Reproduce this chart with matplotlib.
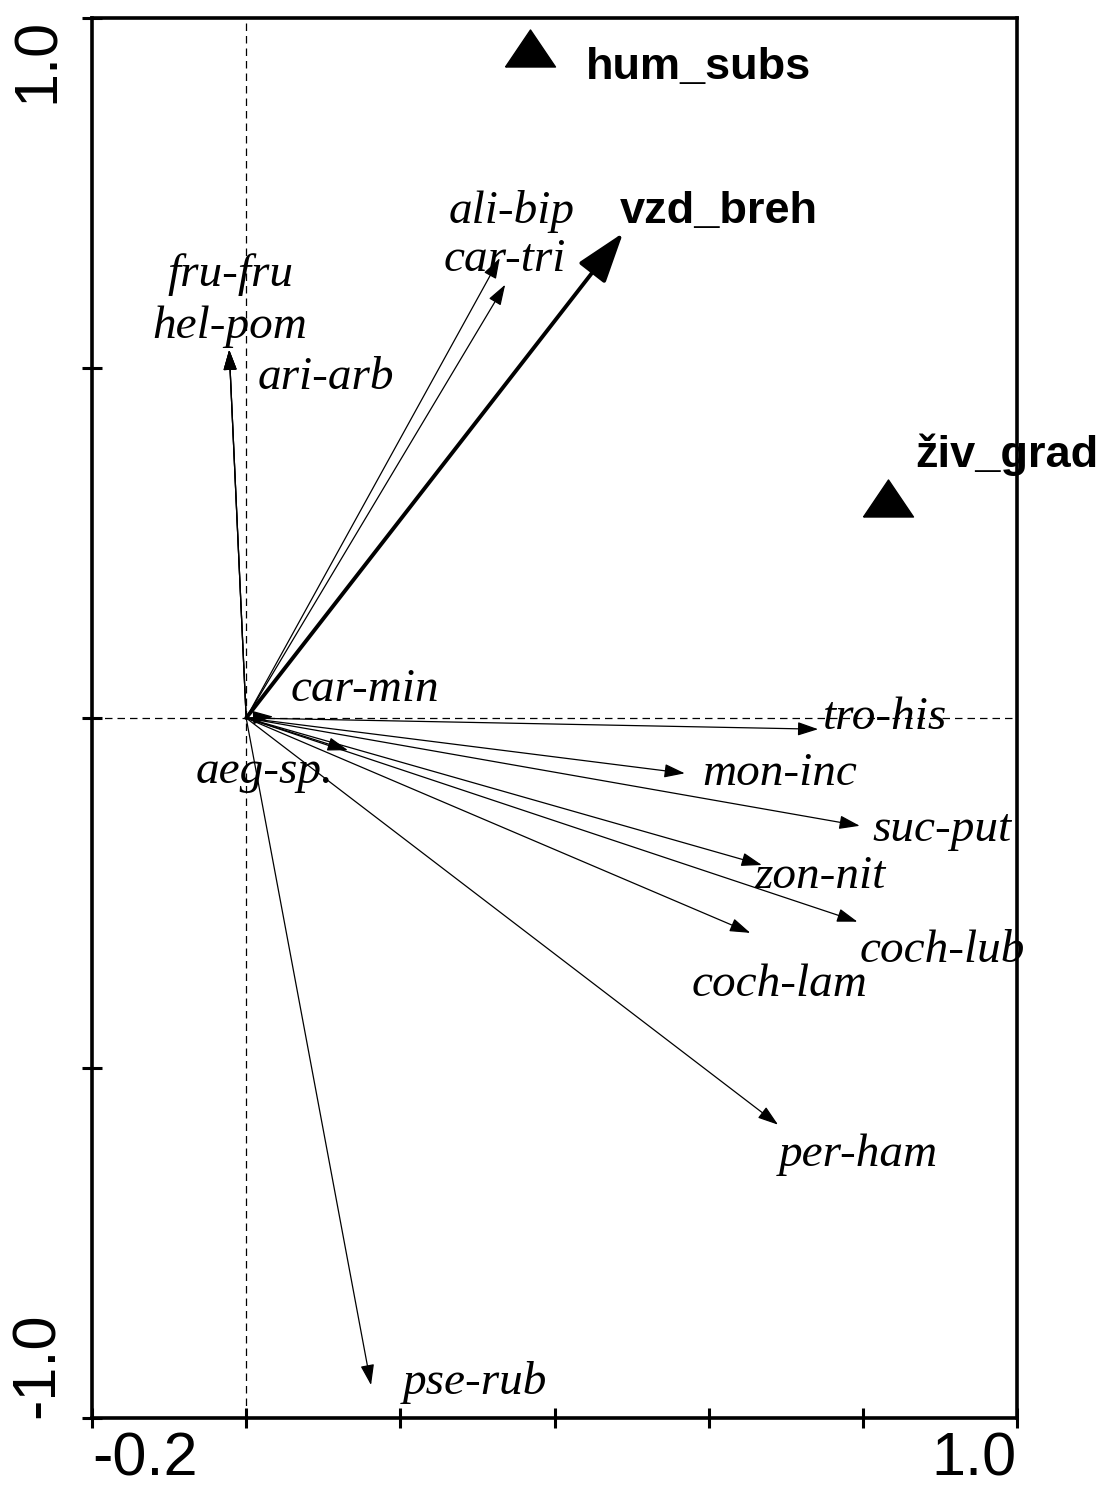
import matplotlib.pyplot as plt
import numpy as np

plt.rcParams['font.family'] = ['Liberation Sans', 'DejaVu Sans']

# species arrows (ordination scores)
species = ['fru-fru', 'hel-pom', 'ari-arb', 'ali-bip', 'car-tri', 'car-min', 'aeg-sp.',
           'tro-his', 'mon-inc', 'suc-put', 'zon-nit', 'coch-lub', 'coch-lam', 'per-ham', 'pse-rub']
sp_x = [-0.022, -0.022, -0.022, 0.329, 0.336, 0.035, 0.132,
        0.742, 0.569, 0.796, 0.669, 0.793, 0.654, 0.690, 0.162]
sp_y = [0.526, 0.526, 0.526, 0.657, 0.619, 0.002, -0.046,
        -0.016, -0.079, -0.154, -0.210, -0.291, -0.307, -0.581, -0.953]

# environmental variables
env_arrow = ['vzd_breh']
env_arrow_x = [0.489]
env_arrow_y = [0.693]
env_point = ['hum_subs', 'živ_grad']
env_point_x = [0.368, 0.833]
env_point_y = [0.957, 0.314]

# label anchor positions (layout only)
sp_lab_pos = {
    'fru-fru': (-0.020, 0.633), 'hel-pom': (-0.021, 0.559), 'ari-arb': (0.104, 0.486),
    'ali-bip': (0.344, 0.723), 'car-tri': (0.336, 0.654), 'car-min': (0.154, 0.040),
    'aeg-sp.': (0.024, -0.077), 'tro-his': (0.829, 0.001), 'mon-inc': (0.692, -0.079),
    'suc-put': (0.903, -0.160), 'zon-nit': (0.744, -0.227), 'coch-lub': (0.903, -0.333),
    'coch-lam': (0.692, -0.381), 'per-ham': (0.794, -0.624), 'pse-rub': (0.297, -0.950),
}
env_lab_pos = {'vzd_breh': (0.485, 0.723), 'hum_subs': (0.441, 0.929), 'živ_grad': (0.868, 0.376)}

fig = plt.figure(figsize=(11, 14.92), dpi=100)
ax = fig.add_axes([92 / 1100, 74 / 1492, 925 / 1100, 1400 / 1492])
ax.set_xlim(-0.2, 1.0)
ax.set_ylim(-1.0, 1.0)

ax.axhline(0, color='black', lw=0.9, ls=(0, (6, 4)), zorder=1)
ax.axvline(0, color='black', lw=0.9, ls=(0, (6, 4)), zorder=1)

for name, x, y in zip(species, sp_x, sp_y):
    ax.annotate('', xy=(x, y), xytext=(0, 0),
                arrowprops=dict(arrowstyle='-|>,head_length=0.9,head_width=0.3',
                                color='black', lw=0.9, shrinkA=0, shrinkB=0, mutation_scale=14))
    lx, ly = sp_lab_pos[name]
    ax.text(lx, ly, name, fontsize=34, style='italic', family=['Liberation Serif'],
            ha='center', va='center', zorder=3)

for name, x, y in zip(env_arrow, env_arrow_x, env_arrow_y):
    ax.annotate('', xy=(x, y), xytext=(0, 0),
                arrowprops=dict(arrowstyle='-|>,head_length=1.2,head_width=0.4',
                                color='black', lw=2.8, shrinkA=0, shrinkB=0, mutation_scale=26))

tri = [(-1, -0.74), (1, -0.74), (0, 0.74), (-1, -0.74)]
ax.plot(env_point_x, env_point_y, ls='none', marker=tri, markersize=36, color='black', zorder=3)

for name in env_arrow + env_point:
    lx, ly = env_lab_pos[name]
    ax.text(lx, ly, name, fontsize=32.5, fontweight='bold', ha='left', va='center',
            clip_on=False, zorder=3)

# axes frame and ticks
for s in ax.spines.values():
    s.set_linewidth(2.6)
ax.set_xticks([-0.2, 0.0, 0.2, 0.4, 0.6, 0.8, 1.0])
ax.set_xticklabels(['-0.2', '', '', '', '', '', '1.0'])
ax.set_yticks([-1.0, -0.5, 0.0, 0.5, 1.0])
ax.set_yticklabels(['-1.0', '', '', '', '1.0'])
ax.tick_params(direction='inout', length=14, width=2.2, labelsize=44)
ax.tick_params(axis='x', pad=3)
ax.tick_params(axis='y', labelrotation=90, pad=11)

xl = ax.get_xticklabels()
xl[0].set_ha('left')
xl[-1].set_ha('right')
yl = ax.get_yticklabels()
yl[0].set_va('bottom')
yl[-1].set_va('top')
for t in yl:
    t.set_ha('right')

fig.savefig('out.png', dpi=100)
